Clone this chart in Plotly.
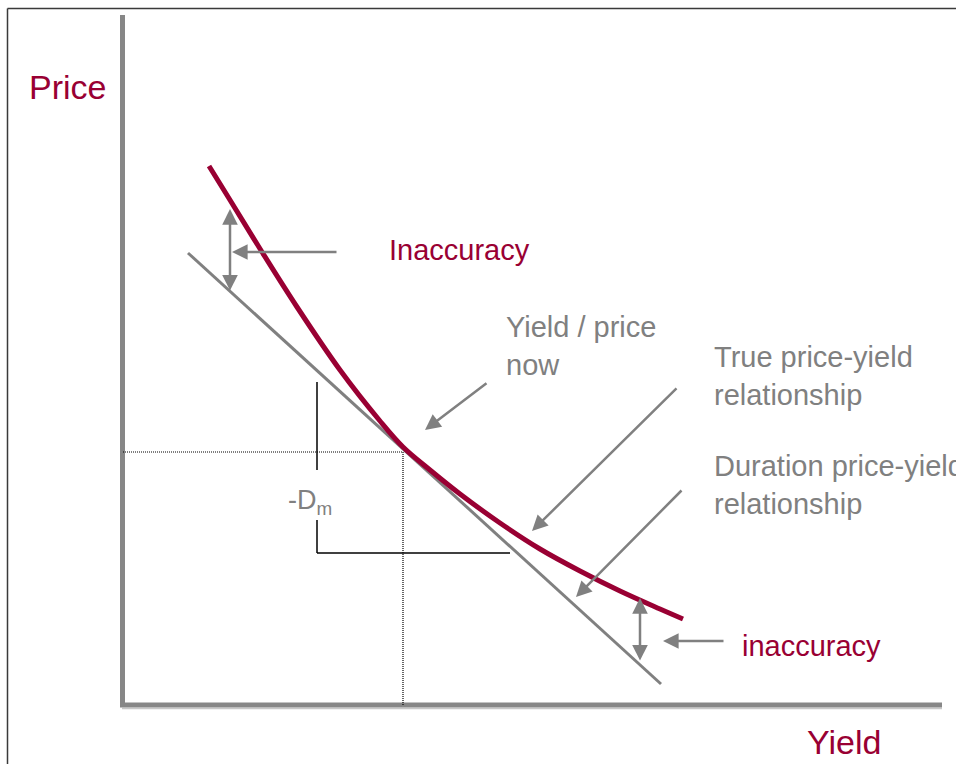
import plotly.graph_objects as go

# Coordinate system: yield to the right, price upward, origin at the axis corner
X_RANGE = [-123, 833]
Y_RANGE = [-59, 705]

# True price-yield relationship (convex curve)
curve_yield = [86, 107, 139, 174, 217, 257, 280, 307, 337, 377, 417, 457, 497, 537, 560]
curve_price = [539, 505, 453, 398, 335, 284, 258, 235, 211, 182, 156, 134, 114, 96, 86]

# Duration (tangent) price-yield relationship
tangent_yield = [65, 538]
tangent_price = [452, 21]

# Current yield / price point
now_yield = 280
now_price = 253

# -D_m slope bracket
bracket_x = [194, 387]
bracket_upper = [323, 235]
bracket_lower = [185, 152]

# Axis extents
axis_x_end = 819
axis_y_end = 690

RED = "#990033"
GRAY = "#808080"
AXIS_GRAY = "#878787"
FONT = "Liberation Sans, Arial, sans-serif"

fig = go.Figure()

fig.add_trace(go.Scatter(
    x=tangent_yield, y=tangent_price, mode="lines",
    line=dict(color=GRAY, width=3), hoverinfo="skip"))
fig.add_trace(go.Scatter(
    x=curve_yield, y=curve_price, mode="lines",
    line=dict(color=RED, width=5, shape="spline", smoothing=1.0), hoverinfo="skip"))

shapes = []
# outer frame (top and left edges)
shapes.append(dict(type="line", xref="paper", yref="paper", x0=7.5 / 956, x1=1.0,
                   y0=1 - 8.5 / 764, y1=1 - 8.5 / 764, line=dict(color="#3a3a3a", width=1.5)))
shapes.append(dict(type="line", xref="paper", yref="paper", x0=7.5 / 956, x1=7.5 / 956,
                   y0=0, y1=1 - 8.5 / 764, line=dict(color="#3a3a3a", width=1.5)))
# axes with a light drop shadow
shapes.append(dict(type="line", x0=-1, x1=axis_x_end, y0=-3.5, y1=-3.5,
                   line=dict(color="#c8c8c8", width=1.5)))
shapes.append(dict(type="line", x0=-0.5, x1=-0.5, y0=-2, y1=axis_y_end,
                   line=dict(color=AXIS_GRAY, width=5)))
shapes.append(dict(type="line", x0=-3, x1=axis_x_end, y0=0, y1=0,
                   line=dict(color=AXIS_GRAY, width=5)))
# dotted guides to the current point
shapes.append(dict(type="line", x0=0, x1=now_yield, y0=now_price, y1=now_price,
                   line=dict(color="black", width=1.2, dash="1px,1px")))
shapes.append(dict(type="line", x0=now_yield, x1=now_yield, y0=0, y1=now_price,
                   line=dict(color="black", width=1.2, dash="1px,1px")))
# -D_m bracket
shapes.append(dict(type="line", x0=bracket_x[0], x1=bracket_x[0], y0=bracket_upper[1], y1=bracket_upper[0],
                   line=dict(color="black", width=1.5)))
shapes.append(dict(type="line", x0=bracket_x[0], x1=bracket_x[0], y0=bracket_lower[1], y1=bracket_lower[0],
                   line=dict(color="black", width=1.5)))
shapes.append(dict(type="line", x0=bracket_x[0], x1=bracket_x[1], y0=bracket_lower[1], y1=bracket_lower[1],
                   line=dict(color="black", width=1.5)))

annotations = []


def label(text, x, y, color, size):
    annotations.append(dict(text=text, x=x, y=y, xanchor="left", yanchor="middle",
                            showarrow=False, align="left",
                            font=dict(family=FONT, size=size, color=color)))


def arrow(tail, head, both=False):
    a = dict(text="", x=head[0], y=head[1], ax=tail[0], ay=tail[1],
             axref="x", ayref="y", showarrow=True, arrowhead=2, arrowsize=1.25,
             arrowwidth=2.5, arrowcolor=GRAY, standoff=0, startstandoff=0)
    if both:
        a.update(arrowside="end+start", startarrowhead=2, startarrowsize=1.25)
    annotations.append(a)


label("Price", -96, 618, RED, 34)
label("Yield", 682, -37, RED, 34)
label("Inaccuracy", 264, 455, RED, 29)
label("inaccuracy", 617, 59, RED, 29)
label("Yield / price<br>now", 381, 359, GRAY, 29)
label("True price-yield<br>relationship", 589, 329, GRAY, 29)
label("Duration price-yield<br>relationship", 589, 220, GRAY, 29)
label("-D<sub>m</sub>", 163, 203, GRAY, 27)

arrow((215, 453), (109, 453))
arrow((107, 413), (107, 496), both=True)
arrow((365, 323), (302, 275))
arrow((555, 318), (409, 174))
arrow((560, 216), (453, 108))
arrow((602, 64), (540, 64))
arrow((517, 43), (517, 107), both=True)

fig.update_layout(
    width=956, height=764,
    margin=dict(l=0, r=0, t=0, b=0),
    paper_bgcolor="white", plot_bgcolor="white",
    showlegend=False,
    xaxis=dict(range=X_RANGE, visible=False, fixedrange=True),
    yaxis=dict(range=Y_RANGE, visible=False, fixedrange=True),
    shapes=shapes, annotations=annotations,
)

fig.write_html("out.html")
